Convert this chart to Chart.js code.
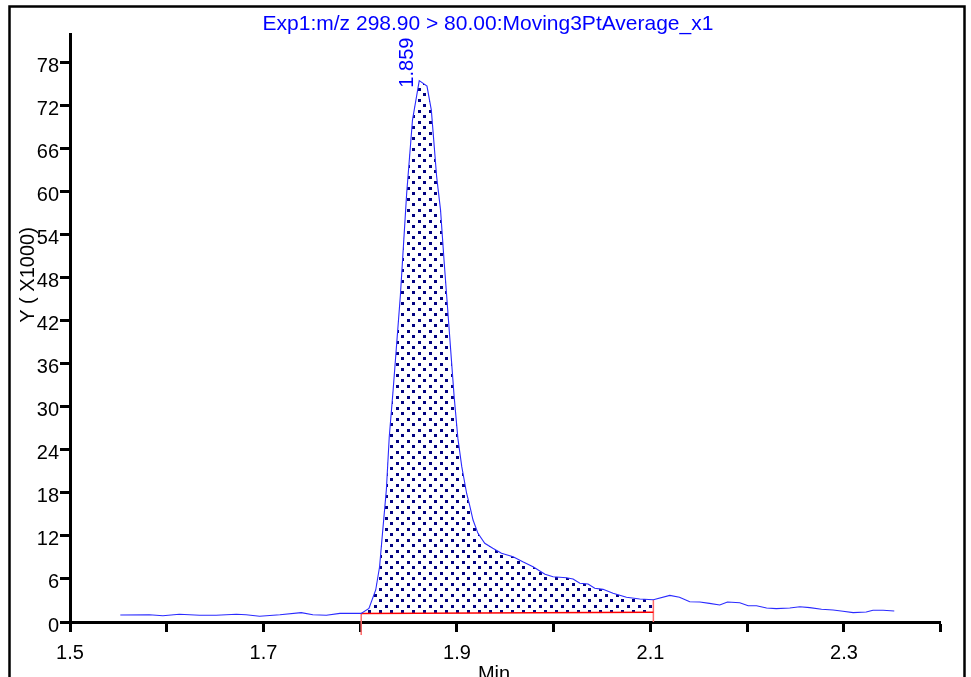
<!DOCTYPE html>
<html>
<head>
<meta charset="utf-8">
<script src="https://cdn.jsdelivr.net/npm/chart.js@4.4.1/dist/chart.umd.min.js"></script>
<style>
  html, body { margin: 0; padding: 0; background: #fff; }
  #wrap { width: 971px; height: 677px; position: relative; overflow: hidden; }
</style>
</head>
<body>
<div id="wrap"><canvas id="grafico" width="971" height="677"></canvas></div>
<script>
// cromatograma (min, Y x1000)
const tiempos = [1.552, 1.582, 1.596, 1.613, 1.634, 1.651, 1.672, 1.682, 1.696, 1.717,
  1.739, 1.751, 1.765, 1.779, 1.801, 1.809, 1.816, 1.820, 1.823, 1.827,
  1.830, 1.834, 1.8415, 1.848, 1.854, 1.861, 1.869, 1.8735, 1.879, 1.883,
  1.8866, 1.8897, 1.897, 1.901, 1.905, 1.910, 1.913, 1.9166, 1.9217, 1.9287,
  1.937, 1.946, 1.958, 1.968, 1.9786, 1.991, 1.9993, 2.0131, 2.020, 2.027,
  2.0355, 2.0424, 2.051, 2.0613, 2.0752, 2.0889, 2.103, 2.120, 2.130, 2.1406,
  2.151, 2.161, 2.1716, 2.1796, 2.1923, 2.201, 2.2096, 2.220, 2.230, 2.244,
  2.2544, 2.2647, 2.2768, 2.2888, 2.299, 2.3095, 2.323, 2.330, 2.3405, 2.352];
const intensidad = [0.97, 1.0, 0.88, 1.07, 0.93, 0.93, 1.07, 1.0, 0.8, 1.0,
  1.3, 1.0, 0.93, 1.2, 1.2, 1.9, 4.46, 7.7, 12.35, 18.4,
  25.8, 32.3, 45.5, 59.7, 69.9, 75.4, 74.65, 71.3, 62, 57.4,
  50.4, 44.8, 31.5, 25.5, 21.6, 17.9, 16.3, 14.2, 12.35, 10.96,
  10.26, 9.57, 9.1, 8.4, 7.7, 6.64, 6.3, 6.17, 6.0, 5.4,
  5.3, 4.7, 4.55, 4.0, 3.44, 3.2, 3.1, 3.7, 3.44, 2.83,
  2.79, 2.6, 2.37, 2.79, 2.69, 2.27, 2.27, 1.95, 1.86, 1.95,
  2.13, 2.0, 1.77, 1.67, 1.49, 1.3, 1.39, 1.63, 1.63, 1.53];

// integracion del pico
const integracionX = [1.801, 2.103];
const integracionBase = [1.2, 1.35];
const marcaInferior = [-1.8, 0];
const picoEtiqueta = "1.859";

// ejes
const xTicks = [1.5, 1.6, 1.7, 1.8, 1.9, 2.0, 2.1, 2.2, 2.3, 2.4];
const xTickLabels = ["1.5", "1.7", "1.9", "2.1", "2.3"];
const yTicks = [0, 6, 12, 18, 24, 30, 36, 42, 48, 54, 60, 66, 72, 78];

const titulo = "Exp1:m/z 298.90 > 80.00:Moving3PtAverage_x1";
const fuente = '"Liberation Sans", Arial, sans-serif';

const canvas = document.getElementById("grafico");
const ctx = canvas.getContext("2d");

// relleno punteado
function patronPuntos() {
  const c = document.createElement("canvas");
  c.width = 11;
  c.height = 11;
  const g = c.getContext("2d");
  g.fillStyle = "#000080";
  g.fillRect(0, 0, 3, 3);
  g.fillRect(5, 5, 3, 3);
  return ctx.createPattern(c, "repeat");
}

const curva = tiempos.map((t, i) => ({ x: t, y: intensidad[i] }));
const area = curva.filter((p) => p.x >= integracionX[0] && p.x <= integracionX[1]);
const valorEn = (t) => intensidad[tiempos.indexOf(t)];

const decoracion = {
  id: "decoracion",
  afterDraw(chart) {
    const c = chart.ctx;
    const xs = chart.scales.x;
    const ys = chart.scales.y;
    c.save();
    // marco
    c.strokeStyle = "#000";
    c.lineWidth = 2.5;
    c.strokeRect(9.5, 6.5, 955, 700);

    c.fillStyle = "#0000ff";
    c.font = "21px " + fuente;
    c.textAlign = "center";
    c.textBaseline = "alphabetic";
    c.fillText(titulo, 488, 30);

    // etiqueta del pico
    c.font = "20px " + fuente;
    let iMax = 0;
    intensidad.forEach((v, i) => { if (v > intensidad[iMax]) iMax = i; });
    const px = xs.getPixelForValue(tiempos[iMax]);
    const py = ys.getPixelForValue(intensidad[iMax]);
    c.save();
    c.translate(px - 6, py + 7);
    c.rotate(-Math.PI / 2);
    c.textAlign = "left";
    c.fillText(picoEtiqueta, 0, 0);
    c.restore();

    // titulos de ejes
    c.fillStyle = "#000";
    c.save();
    c.translate(34, 275);
    c.rotate(-Math.PI / 2);
    c.textAlign = "center";
    c.fillText("Y ( X1000)", 0, 0);
    c.restore();
    c.textAlign = "center";
    c.fillText("Min", 494, 680);
    c.restore();
  }
};

new Chart(ctx, {
  type: "line",
  data: {
    datasets: [
      {
        data: area,
        fill: "+1",
        backgroundColor: patronPuntos(),
        borderWidth: 0,
        pointRadius: 0,
        order: 3
      },
      {
        data: integracionX.map((t, i) => ({ x: t, y: integracionBase[i] })),
        borderColor: "#ff0000",
        borderWidth: 1.5,
        pointRadius: 0,
        fill: false,
        order: 1
      },
      {
        data: curva,
        borderColor: "#2a2aff",
        borderWidth: 1.1,
        pointRadius: 0,
        fill: false,
        order: 0
      },
      {
        data: [{ x: integracionX[0], y: marcaInferior[0] }, { x: integracionX[0], y: valorEn(integracionX[0]) }],
        borderColor: "#ff6a6a",
        borderWidth: 1.5,
        pointRadius: 0,
        fill: false,
        clip: false,
        order: 1
      },
      {
        data: [{ x: integracionX[1], y: marcaInferior[1] }, { x: integracionX[1], y: valorEn(integracionX[1]) }],
        borderColor: "#ff6a6a",
        borderWidth: 1.5,
        pointRadius: 0,
        fill: false,
        clip: false,
        order: 1
      }
    ]
  },
  options: {
    responsive: false,
    animation: false,
    devicePixelRatio: 1,
    events: [],
    layout: { padding: { left: 0, top: 34, right: 30.3, bottom: 0 } },
    plugins: { legend: { display: false }, tooltip: { enabled: false }, title: { display: false } },
    elements: { line: { tension: 0 } },
    scales: {
      x: {
        type: "linear",
        min: 1.5,
        max: 2.4,
        afterBuildTicks: (s) => { s.ticks = xTicks.map((v) => ({ value: v })); },
        afterFit: (s) => { s.height = 55; },
        ticks: {
          color: "#000",
          font: { size: 20, family: fuente },
          padding: 9,
          maxRotation: 0,
          autoSkip: false,
          callback: (v) => {
            const s = Number(v).toFixed(1);
            return xTickLabels.includes(s) ? s : "";
          }
        },
        grid: { drawOnChartArea: false, drawTicks: true, tickLength: 10, tickWidth: 3, tickColor: "#000" },
        border: { color: "#000", width: 3 }
      },
      y: {
        type: "linear",
        min: 0,
        max: 81.9,
        afterBuildTicks: (s) => { s.ticks = yTicks.map((v) => ({ value: v })); },
        afterFit: (s) => { s.width = 70; },
        ticks: {
          color: "#000",
          font: { size: 20, family: fuente },
          padding: 1,
          labelOffset: 4,
          autoSkip: false,
          callback: (v) => String(v)
        },
        grid: { drawOnChartArea: false, drawTicks: true, tickLength: 10, tickWidth: 3, tickColor: "#000" },
        border: { color: "#000", width: 3 }
      }
    }
  },
  plugins: [decoracion]
});
</script>
</body>
</html>
